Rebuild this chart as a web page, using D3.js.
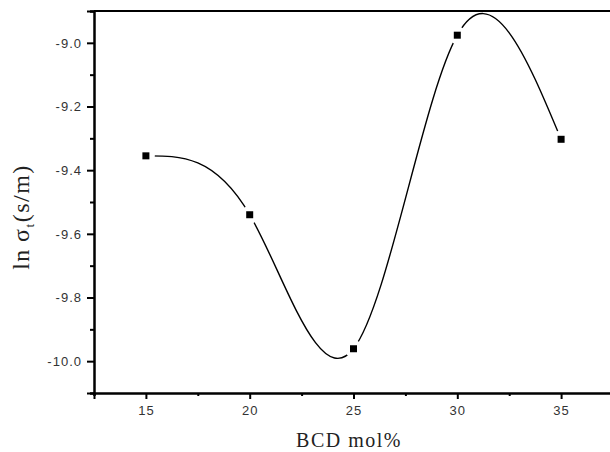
<!DOCTYPE html>
<html>
<head>
<meta charset="utf-8">
<script src="https://cdn.jsdelivr.net/npm/d3@7"></script>
<style>
  body { margin: 0; background: #fff; }
  svg { display: block; }
</style>
</head>
<body>
<svg id="chart" width="610" height="452"></svg>
<script>
// BCD content (mol%) and ln(sigma)
var bcd = [15, 20, 25, 30, 35];
var lnSigma = [-9.355, -9.54, -9.961, -8.976, -9.303];
var xTicks = [15, 20, 25, 30, 35];
var yTicks = [-10.0, -9.8, -9.6, -9.4, -9.2, -9.0];

var svg = d3.select("#chart");

// plot box (right side runs off the picture, like the original crop)
var mLeft = 94, mTop = 11, mRight = 613, mBottom = 393;

var x = d3.scaleLinear().domain([12.5, 37.5]).range([mLeft, mRight]);
var y = d3.scaleLinear().domain([-10.1, -8.9]).range([mBottom, mTop]);

var pts = bcd.map(function(d, i) { return [d, lnSigma[i]]; });

// frame: top + right lines
svg.append("path")
  .attr("d", "M" + mLeft + "," + mTop + "H" + mRight + "V" + mBottom)
  .attr("fill", "none").attr("stroke", "#000").attr("stroke-width", 2);

function styleAxis(g) {
  g.selectAll(".domain").attr("stroke-width", 2);
  g.selectAll("line").attr("stroke-width", 2);
  g.selectAll("text")
    .attr("font-family", "Liberation Sans, Arial, sans-serif")
    .attr("font-size", 13).attr("letter-spacing", 1).attr("fill", "#333");
}

// x axis: minor ticks then major ticks
svg.append("g").attr("transform", "translate(0," + mBottom + ")")
  .call(d3.axisBottom(x).tickValues([12.5, 17.5, 22.5, 27.5, 32.5]).tickSize(3).tickFormat(""))
  .call(styleAxis);
var xAxis = svg.append("g").attr("transform", "translate(0," + mBottom + ")")
  .call(d3.axisBottom(x).tickValues(xTicks).tickSize(6).tickFormat(d3.format("d")))
  .call(styleAxis);
xAxis.selectAll("text").attr("y", 13).attr("dy", "0.71em");

// y axis
svg.append("g").attr("transform", "translate(" + mLeft + ",0)")
  .call(d3.axisLeft(y).tickValues([-10.1, -9.9, -9.7, -9.5, -9.3, -9.1, -8.9]).tickSize(4).tickFormat(""))
  .call(styleAxis);
var yAxis = svg.append("g").attr("transform", "translate(" + mLeft + ",0)")
  .call(d3.axisLeft(y).tickValues(yTicks).tickSize(7)
    .tickFormat(function(d) { return d3.format(".1f")(d).replace("\u2212", "-"); }))
  .call(styleAxis);
yAxis.selectAll("text").attr("x", -12);

// spline through the points
var line = d3.line()
  .x(function(d) { return x(d[0]); })
  .y(function(d) { return y(d[1]); })
  .curve(d3.curveNatural);

svg.append("path")
  .datum(pts)
  .attr("d", line)
  .attr("fill", "none")
  .attr("stroke", "#000")
  .attr("stroke-width", 1.4);

// gap around the markers
svg.selectAll("circle.gap")
  .data(pts).enter()
  .append("circle")
  .attr("class", "gap")
  .attr("cx", function(d) { return x(d[0]); })
  .attr("cy", function(d) { return y(d[1]); })
  .attr("r", 9)
  .attr("fill", "#fff");

svg.selectAll("rect.pt")
  .data(pts).enter()
  .append("rect")
  .attr("class", "pt")
  .attr("x", function(d) { return x(d[0]) - 3.5; })
  .attr("y", function(d) { return y(d[1]) - 3.5; })
  .attr("width", 7).attr("height", 7)
  .attr("fill", "#000");

// axis titles
svg.append("text")
  .attr("x", 349).attr("y", 447)
  .attr("text-anchor", "middle")
  .attr("font-family", "Liberation Serif, Times New Roman, serif")
  .attr("font-size", 20).attr("letter-spacing", 1.5).attr("fill", "#222")
  .text("BCD mol%");

var yt = svg.append("text")
  .attr("transform", "translate(29," + 217 + ") rotate(-90)")
  .attr("text-anchor", "middle")
  .attr("font-family", "Liberation Serif, Times New Roman, serif")
  .attr("font-size", 24).attr("letter-spacing", 1.5).attr("fill", "#222");
yt.append("tspan").text("ln\u2009\u03c3");
yt.append("tspan").attr("font-size", 13).attr("dy", 5).text("t");
yt.append("tspan").attr("dy", -5).text("(s/m)");
</script>
</body>
</html>
